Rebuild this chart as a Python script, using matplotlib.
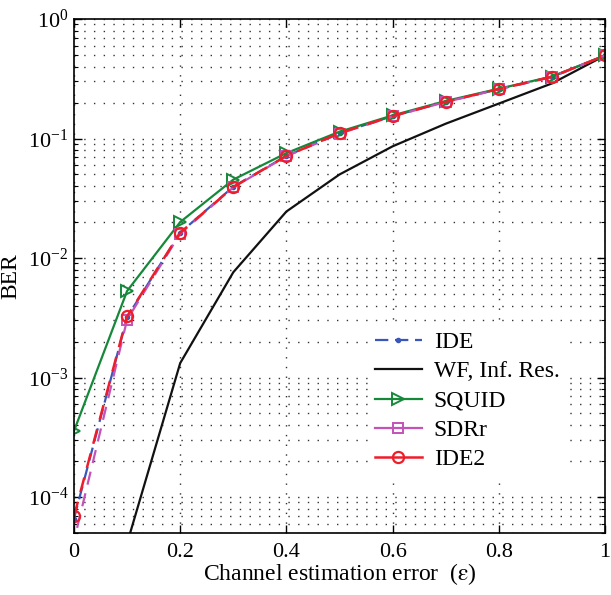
import math
import matplotlib
matplotlib.use("Agg")
import matplotlib.pyplot as plt
from matplotlib.ticker import LogLocator, NullFormatter, FixedLocator, FuncFormatter

plt.rcParams['font.family'] = ['Liberation Serif', 'DejaVu Serif']
plt.rcParams['mathtext.fontset'] = 'stix'

eps = [0.0, 0.1, 0.2, 0.3, 0.4, 0.5, 0.6, 0.7, 0.8, 0.9, 1.0]
ber_ide = [6.6e-5, 3.2e-3, 1.63e-2, 0.0395, 0.0715, 0.111, 0.154, 0.203, 0.259, 0.328, 0.495]
ber_wf = [1.0e-6, 4.1e-5, 1.32e-3, 7.6e-3, 0.0245, 0.050, 0.086, 0.133, 0.196, 0.289, 0.495]
ber_squid = [3.57e-4, 5.3e-3, 2.0e-2, 0.0453, 0.0755, 0.114, 0.156, 0.206, 0.261, 0.330, 0.495]
ber_sdrr = [4.3e-5, 3.05e-3, 1.6e-2, 0.0390, 0.0710, 0.110, 0.153, 0.202, 0.258, 0.327, 0.495]
ber_ide2 = [6.9e-5, 3.25e-3, 1.63e-2, 0.0392, 0.0714, 0.111, 0.154, 0.203, 0.259, 0.328, 0.495]

labels = ['IDE', 'WF, Inf. Res.', 'SQUID', 'SDRr', 'IDE2']

W, H = 611, 595
fig = plt.figure(figsize=(W / 100, H / 100), dpi=100)
left, right, top, bottom = 74, 605, 19, 533
ax = fig.add_axes([left / W, 1 - bottom / H, (right - left) / W, (bottom - top) / H])

ax.semilogy(eps, ber_ide, color='#3a56b8', linestyle=(0, (6, 3)), marker='.',
            markersize=6, linewidth=1.6, label=labels[0])
ax.semilogy(eps, ber_wf, color='#111111', linestyle='-', linewidth=1.6, label=labels[1])
ax.semilogy(eps, ber_squid, color='#15883a', linestyle='-', marker='>', markersize=8,
            markerfacecolor='none', markeredgewidth=1.4, linewidth=1.6, label=labels[2])
ax.semilogy(eps, ber_sdrr, color='#c452b8', linestyle=(4, (6, 4)), marker='s', markersize=7,
            markerfacecolor='none', markeredgewidth=1.4, linewidth=1.6, label=labels[3])
ax.semilogy(eps, ber_ide2, color='#ee1d2a', linestyle=(0, (6, 4)), marker='o', markersize=8,
            markerfacecolor='none', markeredgewidth=1.6, linewidth=1.8, label=labels[4])

ax.set_xlim(0, 1)
ax.set_ylim(5e-5, 1)
ax.xaxis.set_major_locator(FixedLocator([0, 0.2, 0.4, 0.6, 0.8, 1.0]))
ax.set_xticklabels(['0', '0.2', '0.4', '0.6', '0.8', '1'])
ax.yaxis.set_major_locator(LogLocator(base=10, numticks=10))
ax.yaxis.set_major_formatter(FuncFormatter(
    lambda v, p: r'$\mathregular{10^{%d}}$' % round(math.log10(v))))
ax.yaxis.set_minor_locator(LogLocator(base=10, subs=range(2, 10), numticks=100))
ax.yaxis.set_minor_formatter(NullFormatter())

grid_style = dict(linestyle=(0, (1, 6)), color='#333333', linewidth=1.0)
ax.grid(True, which='major', axis='both', **grid_style)
ax.grid(True, which='minor', axis='y', **grid_style)
ax.set_axisbelow(True)

ax.tick_params(which='both', direction='in', top=True, right=True, labelsize=16)
ax.tick_params(which='major', length=6, width=1)
ax.tick_params(which='minor', length=3, width=0.8)
ax.tick_params(axis='x', pad=7)
ax.tick_params(axis='y', pad=4)
for s in ax.spines.values():
    s.set_linewidth(1.2)

ax.set_xlabel(r'Channel estimation error  ($\mathrm{\varepsilon}$)', fontsize=17)
ax.xaxis.set_label_coords(0.5, -0.055)
ax.set_ylabel('BER', fontsize=17)
ax.yaxis.set_label_coords(-0.1, 0.5)

leg = ax.legend(loc='lower right', bbox_to_anchor=(0.95, 0.085), fontsize=17, frameon=True,
                fancybox=False, edgecolor='none', framealpha=1.0, handlelength=2.0,
                handletextpad=0.5, labelspacing=0.33, borderpad=0.3)
# solid strokes for the short legend samples of the dashed SDRr / IDE2 curves
for handle in leg.get_lines()[3:]:
    handle.set_linestyle('-')

fig.savefig('out.png', dpi=100)
